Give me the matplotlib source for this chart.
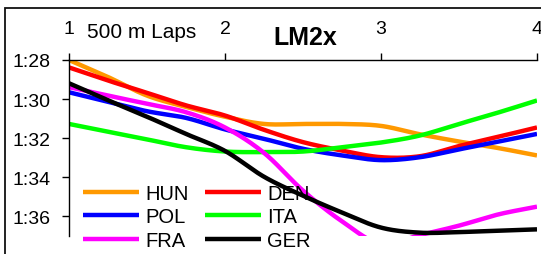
import numpy as np
import matplotlib
matplotlib.use("Agg")
import matplotlib.pyplot as plt
from matplotlib.patches import Rectangle
from matplotlib.ticker import FuncFormatter

plt.rcParams['font.family'] = ['Liberation Sans', 'DejaVu Sans']

# ---- data (lap position, split time in seconds) ----
laps = [1, 1.25, 1.5, 1.75, 2, 2.25, 2.5, 2.75, 3, 3.25, 3.5, 3.75, 4]
hun = [88.0, 88.87, 89.82, 90.4, 90.9, 91.27, 91.27, 91.27, 91.37, 91.8, 92.17, 92.5, 92.88]
den = [88.38, 89.05, 89.68, 90.32, 90.84, 91.57, 92.2, 92.63, 92.97, 92.92, 92.4, 91.93, 91.45]
pol = [89.65, 90.14, 90.62, 90.96, 91.55, 92.03, 92.54, 92.88, 93.12, 92.97, 92.57, 92.18, 91.78]
ita = [91.27, 91.67, 92.06, 92.46, 92.68, 92.71, 92.68, 92.46, 92.22, 91.86, 91.27, 90.69, 90.07]
fra = [89.39, 89.82, 90.24, 90.67, 91.45, 92.75, 94.68, 96.25, 97.4, 96.95, 96.47, 95.9, 95.5]
ger = [89.19, 90.06, 90.9, 91.78, 92.65, 93.97, 94.94, 95.8, 96.57, 96.83, 96.8, 96.73, 96.66]

names = ["HUN", "DEN", "POL", "ITA", "FRA", "GER"]
values = [hun, den, pol, ita, fra, ger]
colors = ["#FF9900", "#FF0000", "#0000FF", "#00FF00", "#FF00FF", "#000000"]

x_ticks = [1, 2, 3, 4]
y_ticks = [88, 90, 92, 94, 96]


def smooth(x, y, n=24):
    pts = np.column_stack([x, y]).astype(float)
    p = np.vstack([2 * pts[0] - pts[1], pts, 2 * pts[-1] - pts[-2]])
    t = np.linspace(0, 1, n, endpoint=False)[:, None]
    out = []
    for i in range(1, len(p) - 2):
        p0, p1, p2, p3 = p[i - 1], p[i], p[i + 1], p[i + 2]
        seg = 0.5 * ((2 * p1) + (-p0 + p2) * t + (2 * p0 - 5 * p1 + 4 * p2 - p3) * t ** 2
                     + (-p0 + 3 * p1 - 3 * p2 + p3) * t ** 3)
        out.append(seg)
    out.append(pts[-1][None, :])
    s = np.vstack(out)
    return s[:, 0], s[:, 1]


W, H = 541, 255
fig = plt.figure(figsize=(W / 100, H / 100), dpi=100)
ax = fig.add_axes([69 / W, 1 - 237 / H, (537 - 69) / W, (237 - 61) / H])

handles = {}
for name, vals, col in zip(names, values, colors):
    sx, sy = smooth(laps, vals)
    ln, = ax.plot(sx, sy, color=col, lw=3.2, solid_capstyle='butt')
    handles[name] = ln

ax.set_xlim(1, 4)
ax.set_ylim(97, 88)
ax.xaxis.tick_top()
ax.set_xticks(x_ticks)
ax.set_yticks(y_ticks)
ax.yaxis.set_major_formatter(FuncFormatter(lambda v, p: f"{int(v)//60}:{int(v)%60:02d}"))
for s in ['right', 'bottom']:
    ax.spines[s].set_visible(False)
for s in ['left', 'top']:
    ax.spines[s].set_linewidth(1.0)
ax.tick_params(axis='x', direction='out', length=5, width=1, labelsize=14, pad=11.5)
ax.tick_params(axis='y', direction='out', length=5, width=1, labelsize=14, pad=8)

fig.text(87 / W, 1 - 33 / H, "500 m Laps", fontsize=15, ha='left', va='center')
fig.text(273 / W, 1 - 38 / H, "LM2x", fontsize=18, fontweight='bold', ha='left', va='center')

order = ["HUN", "POL", "FRA", "DEN", "ITA", "GER"]
ax.legend([handles[k] for k in order], order, ncol=2, frameon=False,
          loc='upper left', bbox_to_anchor=(83 / W, 1 - 185 / H), bbox_transform=fig.transFigure,
          fontsize=14.5, handlelength=2.8, handletextpad=0.3, columnspacing=0.8,
          labelspacing=0.22, borderpad=0, borderaxespad=0)

fig.patches.append(Rectangle((4.5 / W, -0.2), 1.2, (H - 9) / H + 0.2, transform=fig.transFigure,
                             fill=False, lw=1.3, ec='#111111'))

fig.savefig("out.png", dpi=100)
